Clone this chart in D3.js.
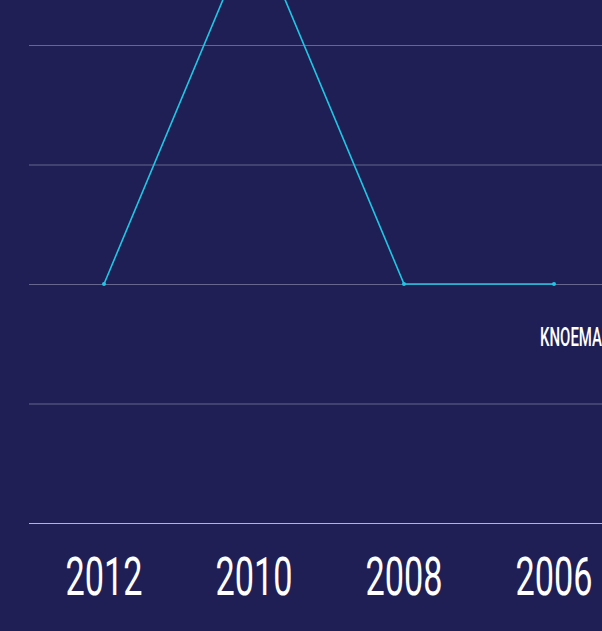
<!DOCTYPE html>
<html><head><meta charset="utf-8">
<script src="https://cdn.jsdelivr.net/npm/d3@7"></script>
<style>
html,body{margin:0;padding:0;background:#1f1f55;overflow:hidden;}
svg{display:block;}
</style></head>
<body>
<svg id="c" width="602" height="631"></svg>
<script>
const years = ["2012","2010","2008","2006"];
const values = [2, 5, 2, 2];
const yTicks = [0, 1, 2, 3, 4];
const sourceLabel = "KNOEMA";

const W = 602, H = 631;
const svg = d3.select("#c");
svg.append("rect").attr("width", W).attr("height", H).attr("fill", "#1f1f55");

const x = d3.scalePoint().domain(years).range([29, 629]).padding(0.5);
const y = d3.scaleLinear().domain([0, 4]).range([523, 45]);

// gridlines
svg.append("g").selectAll("line").data(yTicks).join("line")
  .attr("x1", 29).attr("x2", W)
  .attr("y1", d => y(d) + 0.5).attr("y2", d => y(d) + 0.5)
  .attr("stroke", d => d === 0 ? "#b4b4cc" : "#66668e")
  .attr("stroke-width", 1);

// x axis labels
const xAxis = d3.axisBottom(x).tickSize(0).tickPadding(0);
const gx = svg.append("g").call(xAxis);
gx.select(".domain").remove();
gx.attr("font-family", null).attr("font-size", null);
gx.selectAll(".tick").attr("transform", d => `translate(${x(d)},0)`);
gx.selectAll(".tick text")
  .attr("y", 0).attr("dy", null)
  .attr("fill", "#ffffff")
  .attr("font-family", "Roboto, 'DejaVu Sans Condensed', sans-serif")
  .attr("font-weight", 400)
  .attr("font-size", 53)
  .attr("text-anchor", "middle")
  .each(function() {
    const len = this.getComputedTextLength();
    const s = 77 / len;
    d3.select(this).attr("transform", `translate(0,595) scale(${s},1)`);
  });

// line
const pts = years.map((yr, i) => ({yr, v: values[i]}));
svg.append("path").datum(pts)
  .attr("fill", "none").attr("stroke", "#1ec8e4").attr("stroke-width", 1.6)
  .attr("d", d3.line().x(d => x(d.yr)).y(d => y(d.v)));
svg.append("g").selectAll("circle").data(pts).join("circle")
  .attr("cx", d => x(d.yr)).attr("cy", d => y(d.v)).attr("r", 2)
  .attr("fill", "#1ec8e4");

// source label
const src = svg.append("text").text(sourceLabel)
  .attr("fill", "#ffffff")
  .attr("font-family", "Roboto, 'DejaVu Sans Condensed', sans-serif")
  .attr("font-weight", 500)
  .attr("font-size", 25)
  .attr("text-anchor", "end");
const sl = src.node().getComputedTextLength();
src.attr("transform", `translate(602,346) scale(${62 / sl},1)`);
</script>
</body></html>
